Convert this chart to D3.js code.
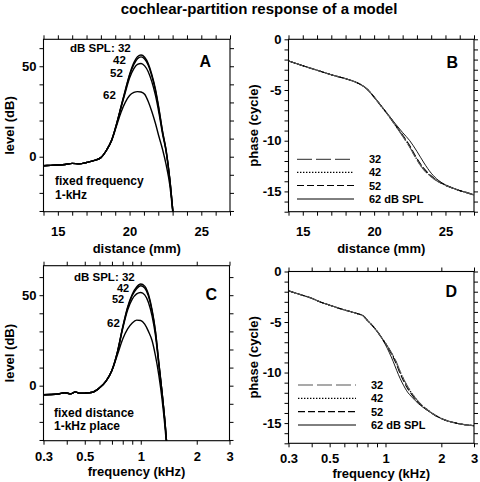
<!DOCTYPE html>
<html><head><meta charset="utf-8">
<script src="https://cdn.jsdelivr.net/npm/d3@7"></script>
<style>
body{margin:0;background:#fff}
svg{display:block}
text{font-family:"Liberation Sans","Arimo",Arial,Helvetica,"DejaVu Sans",sans-serif;font-weight:bold;fill:#000}
</style>
</head><body><svg id="c" width="480" height="482"></svg>
<script>
// ---------- data ----------
const levelsSPL = ["32", "42", "52", "62"];

// Panel A: level (dB) vs distance (mm), fixed frequency 1 kHz
const distA = [14, 14.5, 15, 15.5, 16, 16.5, 17, 17.5, 18, 18.4, 18.75, 19.1, 19.4, 19.7, 20.0, 20.3, 20.55, 20.8, 21.05, 21.3, 21.55, 21.8, 22.05, 22.3, 22.55, 22.8, 23.05];
const levelA32 = [-5, -4.8, -4.6, -4.3, -3.7, -3.9, -3.2, -2.2, -0.5, 3.7, 9.2, 18.4, 27.6, 36.8, 45.5, 52, 55.3, 56.2, 55, 51.5, 45.5, 37.5, 26.5, 14, 3.5, -12, -33];
const levelA42 = [-5, -4.8, -4.6, -4.3, -3.7, -3.9, -3.2, -2.2, -0.5, 3.7, 9.2, 18.3, 27.4, 36.4, 45, 51, 54.2, 55.2, 54, 50.6, 44.6, 36.7, 25.9, 13.6, 3.2, -12.2, -33];
const levelA52 = [-5, -4.8, -4.6, -4.3, -3.7, -3.9, -3.2, -2.2, -0.5, 3.7, 9.1, 18.1, 27, 35.5, 43.5, 48.7, 51, 51.5, 50.2, 47, 41.5, 34, 24, 12.5, 2.6, -12.5, -33];
const levelA62 = [-5, -4.8, -4.6, -4.3, -3.7, -3.9, -3.2, -2.2, -0.5, 3.6, 8.8, 17.2, 24.5, 30, 33.8, 35.5, 36, 35.8, 34.5, 30.5, 25, 18.5, 11, 4, -4.5, -15.5, -34];

// Panel C: level (dB) vs frequency (kHz), fixed distance (1-kHz place)
const freqC = [0.3, 0.33, 0.36, 0.39, 0.42, 0.445, 0.47, 0.5, 0.55, 0.6, 0.65, 0.7, 0.75, 0.8, 0.85, 0.9, 0.95, 1.0, 1.05, 1.1, 1.15, 1.2, 1.25, 1.3, 1.35, 1.4];
const levelC32 = [-5, -4.9, -4.6, -3.9, -4.5, -3.4, -4.2, -4.1, -3.6, -1.2, 2.5, 8.5, 19, 32.5, 43.5, 50.5, 54.5, 56.2, 55, 50.5, 42, 30, 13, -3, -20, -40];
const levelC42 = [-5, -4.9, -4.6, -3.9, -4.5, -3.4, -4.2, -4.1, -3.6, -1.2, 2.5, 8.5, 18.8, 32.2, 43, 49.8, 53.6, 55.2, 54, 49.6, 41.3, 29.6, 12.8, -3, -20, -40];
const levelC52 = [-5, -4.9, -4.6, -3.9, -4.5, -3.4, -4.2, -4.1, -3.6, -1.2, 2.5, 8.5, 18.5, 31.6, 41.8, 47.8, 50.7, 51.5, 50.2, 46, 38.6, 27.6, 11.6, -3.5, -20.5, -40];
const levelC62 = [-5, -4.9, -4.6, -3.9, -4.5, -3.4, -4.2, -4.1, -3.6, -1.2, 2.4, 8.3, 17.2, 25.8, 31.4, 34.7, 36.2, 36, 34, 30, 25, 16.5, 6, -7, -23, -42];

// Panel B: phase (cycle) vs distance (mm)
const distB = [14, 15, 16, 17, 18, 18.5, 19, 19.5, 20, 20.5, 21, 21.5, 22, 22.5, 23, 23.5, 24, 24.5, 25, 25.5, 26, 26.5, 27];
const phaseB32 = [-2.14, -2.6, -3.05, -3.5, -3.88, -4.1, -4.42, -4.9, -5.7, -6.6, -7.5, -8.5, -9.55, -10.65, -11.9, -12.9, -13.55, -14.05, -14.4, -14.67, -14.92, -15.12, -15.35];
const phaseB42 = [-2.14, -2.6, -3.05, -3.5, -3.88, -4.1, -4.42, -4.9, -5.7, -6.6, -7.5, -8.5, -9.5, -10.6, -11.85, -12.85, -13.52, -14.02, -14.4, -14.67, -14.92, -15.12, -15.35];
const phaseB52 = [-2.14, -2.6, -3.05, -3.5, -3.88, -4.1, -4.42, -4.9, -5.7, -6.6, -7.5, -8.48, -9.45, -10.5, -11.75, -12.75, -13.48, -14.0, -14.38, -14.67, -14.92, -15.12, -15.35];
const phaseB62 = [-2.14, -2.6, -3.05, -3.5, -3.88, -4.1, -4.42, -4.9, -5.68, -6.55, -7.45, -8.35, -9.2, -10.0, -11.05, -12.2, -13.2, -13.9, -14.35, -14.65, -14.92, -15.12, -15.35];

// Panel D: phase (cycle) vs frequency (kHz)
const freqD = [0.3, 0.35, 0.4, 0.45, 0.5, 0.6, 0.7, 0.76, 0.8, 0.86, 0.9, 0.97, 1.0, 1.05, 1.1, 1.15, 1.2, 1.25, 1.3, 1.4, 1.5, 1.7, 2.0, 2.4, 3.0];
const phaseD32 = [-1.91, -2.3, -2.65, -3.05, -3.33, -3.8, -4.15, -4.4, -4.85, -5.45, -5.9, -6.75, -7.1, -7.7, -8.35, -9.05, -9.9, -10.6, -11.2, -12.15, -12.85, -13.75, -14.55, -15.0, -15.26];
const phaseD42 = [-1.91, -2.3, -2.65, -3.05, -3.33, -3.8, -4.15, -4.4, -4.85, -5.45, -5.9, -6.75, -7.1, -7.72, -8.38, -9.1, -9.95, -10.65, -11.25, -12.18, -12.87, -13.75, -14.55, -15.0, -15.26];
const phaseD52 = [-1.91, -2.3, -2.65, -3.05, -3.33, -3.8, -4.15, -4.4, -4.85, -5.45, -5.9, -6.76, -7.13, -7.78, -8.48, -9.25, -10.1, -10.8, -11.4, -12.28, -12.93, -13.77, -14.55, -15.0, -15.26];
const phaseD62 = [-1.91, -2.3, -2.65, -3.05, -3.33, -3.8, -4.15, -4.4, -4.85, -5.46, -5.92, -6.8, -7.25, -8.05, -8.9, -9.8, -10.6, -11.25, -11.8, -12.5, -13.05, -13.8, -14.55, -15.0, -15.26];

// axis ticks
const distTicks = [14, 15, 16, 17, 18, 19, 20, 21, 22, 23, 24, 25, 26, 27];
const distTickLabels = [15, 20, 25];
const freqTicks = [0.3, 0.4, 0.5, 0.6, 0.7, 0.8, 0.9, 1, 2, 3];
const freqTickLabels = [0.3, 0.5, 1, 2, 3];
const levelTicks = [-30, -20, -10, 0, 10, 20, 30, 40, 50, 60];
const levelTickLabels = [0, 50];
const phaseTicks = d3.range(-17, 1, 1);
const phaseTickLabels = [0, -5, -10, -15];

// ---------- drawing ----------
const svg = d3.select("#c");
const FONT = 13;

svg.append("text").attr("x", 259).attr("y", 14).attr("text-anchor", "middle")
  .style("font-size", "15px").text("cochlear-partition response of a model");

function panel(p) {
  const x = (p.log ? d3.scaleLog() : d3.scaleLinear()).domain(p.xd).range([p.x0, p.x1]);
  const y = d3.scaleLinear().domain(p.yd).range([p.y1, p.y0]);
  const g = svg.append("g");
  const fmt = (labels) => d => labels.includes(d) ? String(d) : "";
  const ts = 4;
  g.append("g").attr("transform", `translate(0,${p.y1})`)
    .call(d3.axisBottom(x).tickValues(p.xt).tickFormat(fmt(p.xl)).tickSize(ts).tickSizeOuter(0))
    .call(s => { s.select(".domain").remove();
      s.selectAll("text").attr("y", p.xlo).attr("dy", null).style("font-size", FONT + "px"); });
  g.append("g").attr("transform", `translate(0,${p.y0})`)
    .call(d3.axisTop(x).tickValues(p.xt).tickFormat("").tickSize(ts).tickSizeOuter(0))
    .call(s => s.select(".domain").remove());
  g.append("g").attr("transform", `translate(${p.x0},0)`)
    .call(d3.axisLeft(y).tickValues(p.yt).tickFormat(fmt(p.yl)).tickSize(ts).tickPadding(3).tickSizeOuter(0))
    .call(s => { s.select(".domain").remove();
      s.selectAll("text").style("font-size", FONT + "px"); });
  g.append("g").attr("transform", `translate(${p.x1},0)`)
    .call(d3.axisRight(y).tickValues(p.yt).tickFormat("").tickSize(ts).tickSizeOuter(0))
    .call(s => s.select(".domain").remove());
  g.append("rect").attr("x", p.x0).attr("y", p.y0).attr("width", p.x1 - p.x0).attr("height", p.y1 - p.y0)
    .attr("fill", "none").attr("stroke", "#000").attr("stroke-width", 1.1);
  // clip
  const cid = "clip" + p.name;
  svg.append("clipPath").attr("id", cid).append("rect")
    .attr("x", p.x0).attr("y", p.y0).attr("width", p.x1 - p.x0).attr("height", p.y1 - p.y0);
  const lg = g.append("g").attr("clip-path", `url(#${cid})`);
  const line = d3.line().x(d => x(d[0])).y(d => y(d[1])).curve(d3.curveMonotoneX);
  p.series.forEach(s => {
    lg.append("path").datum(p.xs.map((v, i) => [v, s.v[i]]))
      .attr("d", line).attr("fill", "none")
      .attr("stroke", s.color || "#000").attr("stroke-width", s.w)
      .attr("stroke-dasharray", s.dash || null);
  });
  // axis titles
  svg.append("text").attr("x", (p.x0 + p.x1) / 2).attr("y", p.xtY).attr("text-anchor", "middle")
    .style("font-size", FONT + "px").text(p.xTitle);
  svg.append("text").attr("transform", `translate(${p.ytX},${(p.y0 + p.y1) / 2}) rotate(-90)`)
    .attr("text-anchor", "middle").style("font-size", FONT + "px").text(p.yTitle);
  // panel letter
  svg.append("text").attr("x", p.letX).attr("y", p.letY).attr("text-anchor", "end")
    .style("font-size", "16px").text(p.letter);
  return { x, y };
}

const styles = {
  "32": { dash: "15,4", color: "#555", w: 1.1 },
  "42": { dash: "1.4,1.6", color: "#000", w: 1.2 },
  "52": { dash: "7,3", color: "#000", w: 1.1 },
  "62": { dash: null, color: "#000", w: 0.9 }
};

// Panel A
panel({ name: "A", x0: 43.5, x1: 230, y0: 39.3, y1: 211.7, xd: [14, 27], yd: [-30.4, 64.9],
  xt: distTicks, xl: distTickLabels, yt: levelTicks, yl: levelTickLabels, xlo: 24.5,
  xs: distA,
  series: [levelA62, levelA52, levelA42, levelA32].map(v => ({ v, w: 1.4 })),
  xTitle: "distance (mm)", xtY: 253, yTitle: "level (dB)", ytX: 14,
  letter: "A", letX: 211, letY: 67 });

// Panel B
panel({ name: "B", x0: 288.5, x1: 474, y0: 39.3, y1: 211.7, xd: [14, 27], yd: [-17, 0],
  xt: distTicks, xl: distTickLabels, yt: phaseTicks, yl: phaseTickLabels, xlo: 24.5,
  xs: distB,
  series: [["62", phaseB62], ["52", phaseB52], ["42", phaseB42], ["32", phaseB32]].map(([k, v]) => Object.assign({ v }, styles[k])),
  xTitle: "distance (mm)", xtY: 253, yTitle: "phase (cycle)", ytX: 258,
  letter: "B", letX: 458, letY: 68 });

// Panel C
panel({ name: "C", x0: 43.5, x1: 229.5, y0: 265.7, y1: 440.7, xd: [0.3, 3], yd: [-30.4, 66.3], log: true,
  xt: freqTicks, xl: freqTickLabels, yt: levelTicks, yl: levelTickLabels, xlo: 20.5,
  xs: freqC,
  series: [levelC62, levelC52, levelC42, levelC32].map(v => ({ v, w: 1.4 })),
  xTitle: "frequency (kHz)", xtY: 476, yTitle: "level (dB)", ytX: 14,
  letter: "C", letX: 217, letY: 300 });

// Panel D
panel({ name: "D", x0: 288.5, x1: 474, y0: 271.5, y1: 443.3, xd: [0.3, 3], yd: [-17, 0], log: true,
  xt: freqTicks, xl: freqTickLabels, yt: phaseTicks, yl: phaseTickLabels, xlo: 20,
  xs: freqD,
  series: [["62", phaseD62], ["52", phaseD52], ["42", phaseD42], ["32", phaseD32]].map(([k, v]) => Object.assign({ v }, styles[k])),
  xTitle: "frequency (kHz)", xtY: 478, yTitle: "phase (cycle)", ytX: 258,
  letter: "D", letX: 457, letY: 297 });

// Annotations in A and C
function ann(txt, x, y, size) {
  svg.append("text").attr("x", x).attr("y", y).style("font-size", (size || 11.5) + "px").text(txt);
}
ann("dB SPL: " + levelsSPL[0], 70, 52); ann(levelsSPL[1], 113, 64); ann(levelsSPL[2], 110, 76.5); ann(levelsSPL[3], 103, 99);
ann("fixed frequency", 55, 185, 12); ann("1-kHz", 55, 199, 12);
ann("dB SPL: " + levelsSPL[0], 74, 280.5); ann(levelsSPL[1], 117, 291.5, 11); ann(levelsSPL[2], 112, 302.5, 11); ann(levelsSPL[3], 107, 327);
ann("fixed distance", 54, 416.5, 12); ann("1-kHz place", 54, 429.5, 12);

// Legends in B and D
function legend(x0, x1, tx, ys) {
  levelsSPL.forEach((k, i) => {
    const s = styles[k];
    svg.append("line").attr("x1", x0).attr("x2", x1).attr("y1", ys[i]).attr("y2", ys[i])
      .attr("stroke", s.color).attr("stroke-width", s.w + 0.1).attr("stroke-dasharray", s.dash);
    svg.append("text").attr("x", tx).attr("y", ys[i] + 4).style("font-size", "11px")
      .text(i === 3 ? k + " dB SPL" : k);
  });
}
legend(297, 354, 369, [159.3, 172.3, 185.5, 199]);
legend(298, 356, 371, [385, 398.3, 411.7, 425]);
</script></body></html>
